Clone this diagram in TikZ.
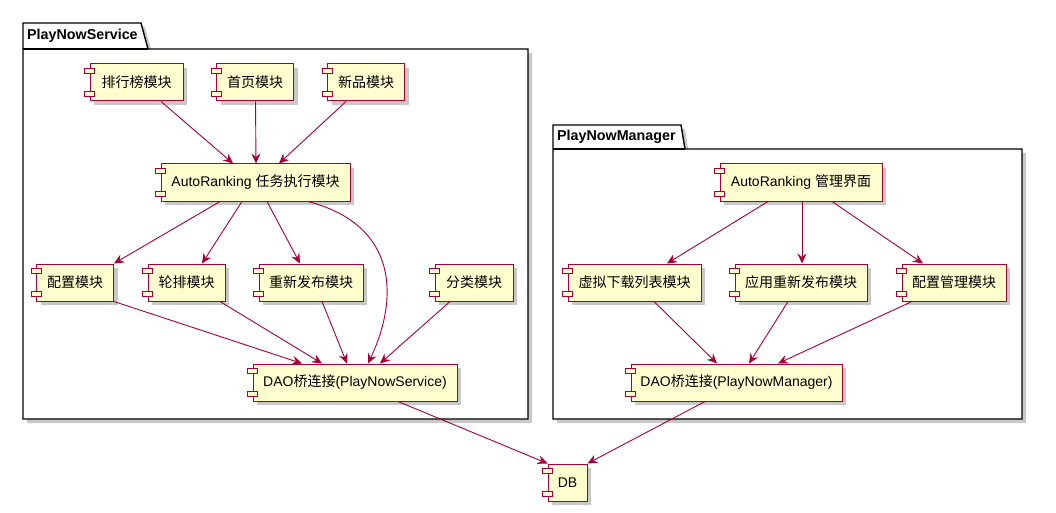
\documentclass[tikz,border=0pt]{standalone}
\usepackage{fontspec}
\setmainfont{Liberation Sans}
\newfontfamily\cjk{Noto Sans CJK SC}
\usetikzlibrary{arrows.meta,shadows}
\definecolor{umlred}{HTML}{A80036}
\definecolor{umlyellow}{HTML}{FEFECE}
\tikzset{
    comp/.style={draw=umlred, fill=umlyellow, line width=1pt, minimum height=37, inner sep=0pt,
        drop shadow={shadow xshift=4pt, shadow yshift=-4pt, opacity=.3, fill=black!70}}, % 组件框
    compbit/.style={draw=umlred, fill=umlyellow, line width=1pt}, % 组件左侧的小方块
    pkg/.style={draw=black, fill=white, line width=1.4pt,
        drop shadow={shadow xshift=4pt, shadow yshift=-4pt, opacity=.3, fill=black!70}}, % 包
    flow/.style={draw=umlred, line width=0.9pt, -{Stealth[length=10pt, width=9pt, inset=3.5pt]}}
}
\newcommand\zh[1]{{\cjk #1}}
\newcommand\umlcomp[4]{%
    \node[comp, minimum width=#3] (#1) at (#2) {#4};
    \draw[compbit] ([shift={(-5,5)}]#1.north west) rectangle ++(10,5);
    \draw[compbit] ([shift={(-5,-10)}]#1.south west) rectangle ++(10,5);
}

\begin{document}
\begin{tikzpicture}[x=1pt, y=-1pt, font=\fontsize{14}{16}\selectfont]
    \useasboundingbox (0,0) rectangle (1056,513);

    % packages
    \draw[pkg] (23,23) -- (141,23) -- (148,49) -- (528,49) -- (528,419) -- (23,419) -- cycle;
    \draw[line width=1.4pt] (23,49) -- (148,49);
    \node[anchor=west, font=\fontsize{14.3}{16}\selectfont\bfseries, inner sep=0pt] (svc) at (27,36) {PlayNowService};
    \draw[pkg] (553,125) -- (681,125) -- (685,149) -- (1022,149) -- (1022,419) -- (553,419) -- cycle;
    \draw[line width=1.4pt] (553,149) -- (685,149);
    \node[anchor=west, font=\fontsize{14.3}{16}\selectfont\bfseries, inner sep=0pt] (man) at (557,137) {PlayNowManager};

    % PlayNowService
    \umlcomp{rank}{136.5,82.5}{93}{\zh{排行榜模块}}
    \umlcomp{home}{255,82.5}{77}{\zh{首页模块}}
    \umlcomp{newp}{366,82.5}{77}{\zh{新品模块}}
    \umlcomp{task}{255.5,182.5}{189}{AutoRanking \zh{任务执行模块}}
    \umlcomp{cfg}{75,282.5}{77}{\zh{配置模块}}
    \umlcomp{rot}{186.5,282.5}{77}{\zh{轮排模块}}
    \umlcomp{repub}{311,282.5}{104}{\zh{重新发布模块}}
    \umlcomp{cls}{474,282.5}{78}{\zh{分类模块}}
    \umlcomp{daos}{355,382.5}{204}{DAO\zh{桥连接}(PlayNowService)}

    % PlayNowManager
    \umlcomp{mgr}{801,182.5}{162}{AutoRanking \zh{管理界面}}
    \umlcomp{vlist}{634.5,282.5}{133}{\zh{虚拟下载列表模块}}
    \umlcomp{apprepub}{801,282.5}{132}{\zh{应用重新发布模块}}
    \umlcomp{cfgmgr}{954,282.5}{104}{\zh{配置管理模块}}
    \umlcomp{daom}{736.5,382.5}{211}{DAO\zh{桥连接}(PlayNowManager)}

    \umlcomp{db}{567.5,482.5}{39}{DB}

    % arrows
    \draw[flow] ([xshift=24.5]rank.south) -- ([xshift=-22.5]task.north);
    \draw[flow] ([xshift=0.5]home.south) -- ([xshift=0.5]task.north);
    \draw[flow] ([xshift=-20]newp.south) -- ([xshift=23.5]task.north);
    \draw[flow] ([xshift=-35.5]task.south) -- (cfg.north east);
    \draw[flow] ([xshift=-13.5]task.south) -- ([xshift=15.5]rot.north);
    \draw[flow] ([xshift=11.5]task.south) -- ([xshift=-11]repub.north);
    \draw[flow] ([xshift=52.5]task.south) .. controls +(92,24) and +(30,-63) .. ([xshift=13]daos.north);
    \draw[flow] (cfg.south east) -- ([xshift=-53]daos.north);
    \draw[flow] ([xshift=33.5]rot.south) -- ([xshift=-33]daos.north);
    \draw[flow] ([xshift=11]repub.south) -- ([xshift=-8]daos.north);
    \draw[flow] ([xshift=-24]cls.south) -- ([xshift=25]daos.north);

    \draw[flow] ([xshift=-33]mgr.south) -- ([xshift=32.5]vlist.north);
    \draw[flow] ([xshift=1]mgr.south) -- ([xshift=1]apprepub.north);
    \draw[flow] ([xshift=31]mgr.south) -- ([xshift=-31]cfgmgr.north);
    \draw[flow] ([xshift=19.5]vlist.south) -- ([xshift=-19.5]daom.north);
    \draw[flow] ([xshift=-13]apprepub.south) -- ([xshift=12.5]daom.north);
    \draw[flow] ([xshift=-42]cfgmgr.south) -- ([xshift=41.5]daom.north);

    \draw[flow] ([xshift=43]daos.south) -- (db.north west);
    \draw[flow] ([xshift=-31.5]daom.south) -- (db.north east);
\end{tikzpicture}
\end{document}
